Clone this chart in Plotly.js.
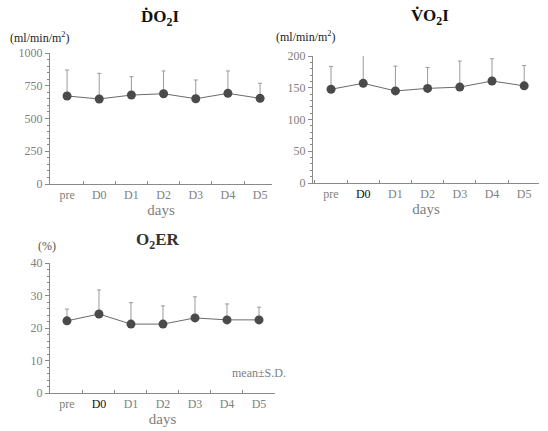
<!DOCTYPE html>
<html><head><meta charset="utf-8">
<script src="https://cdn.plot.ly/plotly-3.0.1.min.js"></script>
<style>html,body{margin:0;padding:0;background:#fff}#chart{width:548px;height:431px}</style>
</head><body><div id="chart"></div>
<script>
const days = ["pre","D0","D1","D2","D3","D4","D5"];
const do2iMean = [672, 649, 679, 689, 651, 692, 654];
const do2iSD   = [198, 196, 140, 174, 143, 171, 115];
const vo2iMean = [147.6, 157, 145, 149, 151, 160.6, 153];
const vo2iSD   = [36, 44, 39, 33, 41, 35, 32];
const o2erMean = [22.2, 24.3, 21.2, 21.2, 23.1, 22.5, 22.5];
const o2erSD   = [3.6, 7.4, 6.6, 5.6, 6.5, 4.9, 3.9];

const serif = "Liberation Serif, Times New Roman, serif";
const axisGray = "#8a8a8a";
const labGray = "#808080";

function ticktext(blackD0){
  return days.map(d => (blackD0 && d==="D0") ? '<span style="color:#111">D0</span>' : d);
}
function trace(y, sd, xa, ya){
  return {x: days, y: y, xaxis: xa, yaxis: ya, type: "scatter", mode: "lines+markers",
    line: {color: "#6a6a6a", width: 1},
    marker: {color: "#4a4a4a", size: 9},
    error_y: {type: "data", array: sd, arrayminus: sd.map(()=>0), symmetric: false, color: "#9a9a9a", thickness: 1, width: 2},
    hoverinfo: "skip", showlegend: false};
}
function xax(domain, range, blackD0, anchor){
  return {type: "category", domain: domain, range: range, anchor: anchor, tickmode: "array", tickvals: days,
    ticktext: ticktext(blackD0), showgrid: false, zeroline: false, showline: true, linecolor: axisGray, linewidth: 1,
    ticks: "inside", ticklen: 3, tickcolor: axisGray, tickson: "boundaries",
    tickfont: {family: serif, size: 12, color: labGray},
    title: {text: "days", font: {family: serif, size: 15, color: labGray}, standoff: 0}};
}
function yax(domain, range, dtick, minor, anchor){
  return {domain: domain, range: range, anchor: anchor, dtick: dtick, showgrid: false, zeroline: false, showline: true,
    linecolor: axisGray, linewidth: 1, ticks: "outside", ticklen: 4, tickcolor: axisGray,
    minor: {dtick: minor, ticks: "outside", ticklen: 2, tickcolor: axisGray, showgrid: false},
    tickfont: {family: serif, size: 12, color: labGray}};
}
const data = [
  trace(do2iMean, do2iSD, "x", "y"),
  trace(vo2iMean, vo2iSD, "x2", "y2"),
  trace(o2erMean, o2erSD, "x3", "y3")
];
function ann(text, x, y, xanchor, size, color){
  return {text: text, x: x/548, y: 1-y/431, xref: "paper", yref: "paper", xanchor: xanchor, yanchor: "middle",
    showarrow: false, font: {family: serif, size: size, color: color}};
}
const layout = {
  width: 548, height: 431, margin: {l:0, r:0, t:0, b:0}, paper_bgcolor: "#fff", plot_bgcolor: "#fff",
  xaxis: xax([50/548, 272/548], [-0.53, 6.37], false, "y"),
  yaxis: yax([1-184/431, 1-53/431], [0, 1000], 250, 50, "x"),
  xaxis2: xax([313/548, 539/548], [-0.56, 6.46], true, "y2"),
  yaxis2: yax([1-183/431, 1-56/431], [0, 200], 50, 10, "x2"),
  xaxis3: xax([50/548, 275/548], [-0.53, 6.5], true, "y3"),
  yaxis3: yax([1-393/431, 1-263/431], [0, 40], 10, 2, "x3"),
  annotations: [
    ann("<b>\u1E0AO<sub>2</sub>I</b>", 160, 18, "center", 17, "#111"),
    ann("<b>V\u0307O<sub>2</sub>I</b>", 430, 17, "center", 17, "#111"),
    ann("<b>O<sub>2</sub>ER</b>", 158, 241, "center", 17, "#333"),
    ann("(ml/min/m<sup>2</sup>)", 8, 37, "left", 12, "#222"),
    ann("(ml/min/m<sup>2</sup>)", 274, 36, "left", 12, "#222"),
    ann("(%)", 36, 246, "left", 12, "#555"),
    ann("mean\u00B1S.D.", 288, 373, "right", 12, labGray)
  ]
};
Plotly.newPlot("chart", data, layout, {staticPlot: true});
</script></body></html>
